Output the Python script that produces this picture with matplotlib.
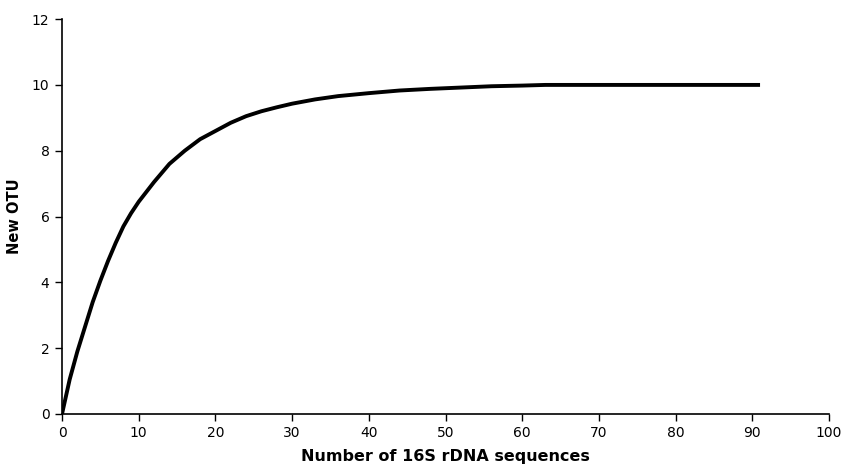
import numpy as np
import matplotlib.pyplot as plt

# valores (x = número de sequências, y = OTUs novas)
sequences = [0, 1, 2, 3, 4, 5, 6, 7, 8, 9, 10, 12, 14, 16, 18, 20, 22, 24, 26, 28,
             30, 33, 36, 40, 44, 48, 52, 56, 60, 63, 70, 80, 91]
new_otu = [0, 1.05, 1.9, 2.65, 3.4, 4.05, 4.65, 5.2, 5.7, 6.1, 6.45, 7.05, 7.6,
           8.0, 8.35, 8.6, 8.85, 9.05, 9.2, 9.32, 9.43, 9.56, 9.66, 9.75, 9.83,
           9.88, 9.92, 9.96, 9.98, 10, 10, 10, 10]

x_ticks = [0, 10, 20, 30, 40, 50, 60, 70, 80, 90, 100]
y_ticks = [0, 2, 4, 6, 8, 10, 12]

plt.rcParams['font.family'] = ['DejaVu Sans']

fig = plt.figure(figsize=(8.46, 4.66), dpi=100)
ax = fig.add_axes([0.0733, 0.1116, 0.9067, 0.8474])

ax.plot(sequences, new_otu, color='black', linewidth=2.8, solid_capstyle='butt')

ax.set_xlim(0, 100)
ax.set_ylim(0, 12)
ax.set_xticks(x_ticks)
ax.set_yticks(y_ticks)
ax.tick_params(direction='out', length=5, width=1, labelsize=10, pad=4)

for s in ['top', 'right']:
    ax.spines[s].set_visible(False)
for s in ['left', 'bottom']:
    ax.spines[s].set_linewidth(1.2)

ax.set_xlabel('Number of 16S rDNA sequences', fontsize=11.5, fontweight='bold', labelpad=6)
ax.set_ylabel('New OTU', fontsize=10.5, fontweight='bold', labelpad=7)

fig.savefig('out.png', dpi=100)
